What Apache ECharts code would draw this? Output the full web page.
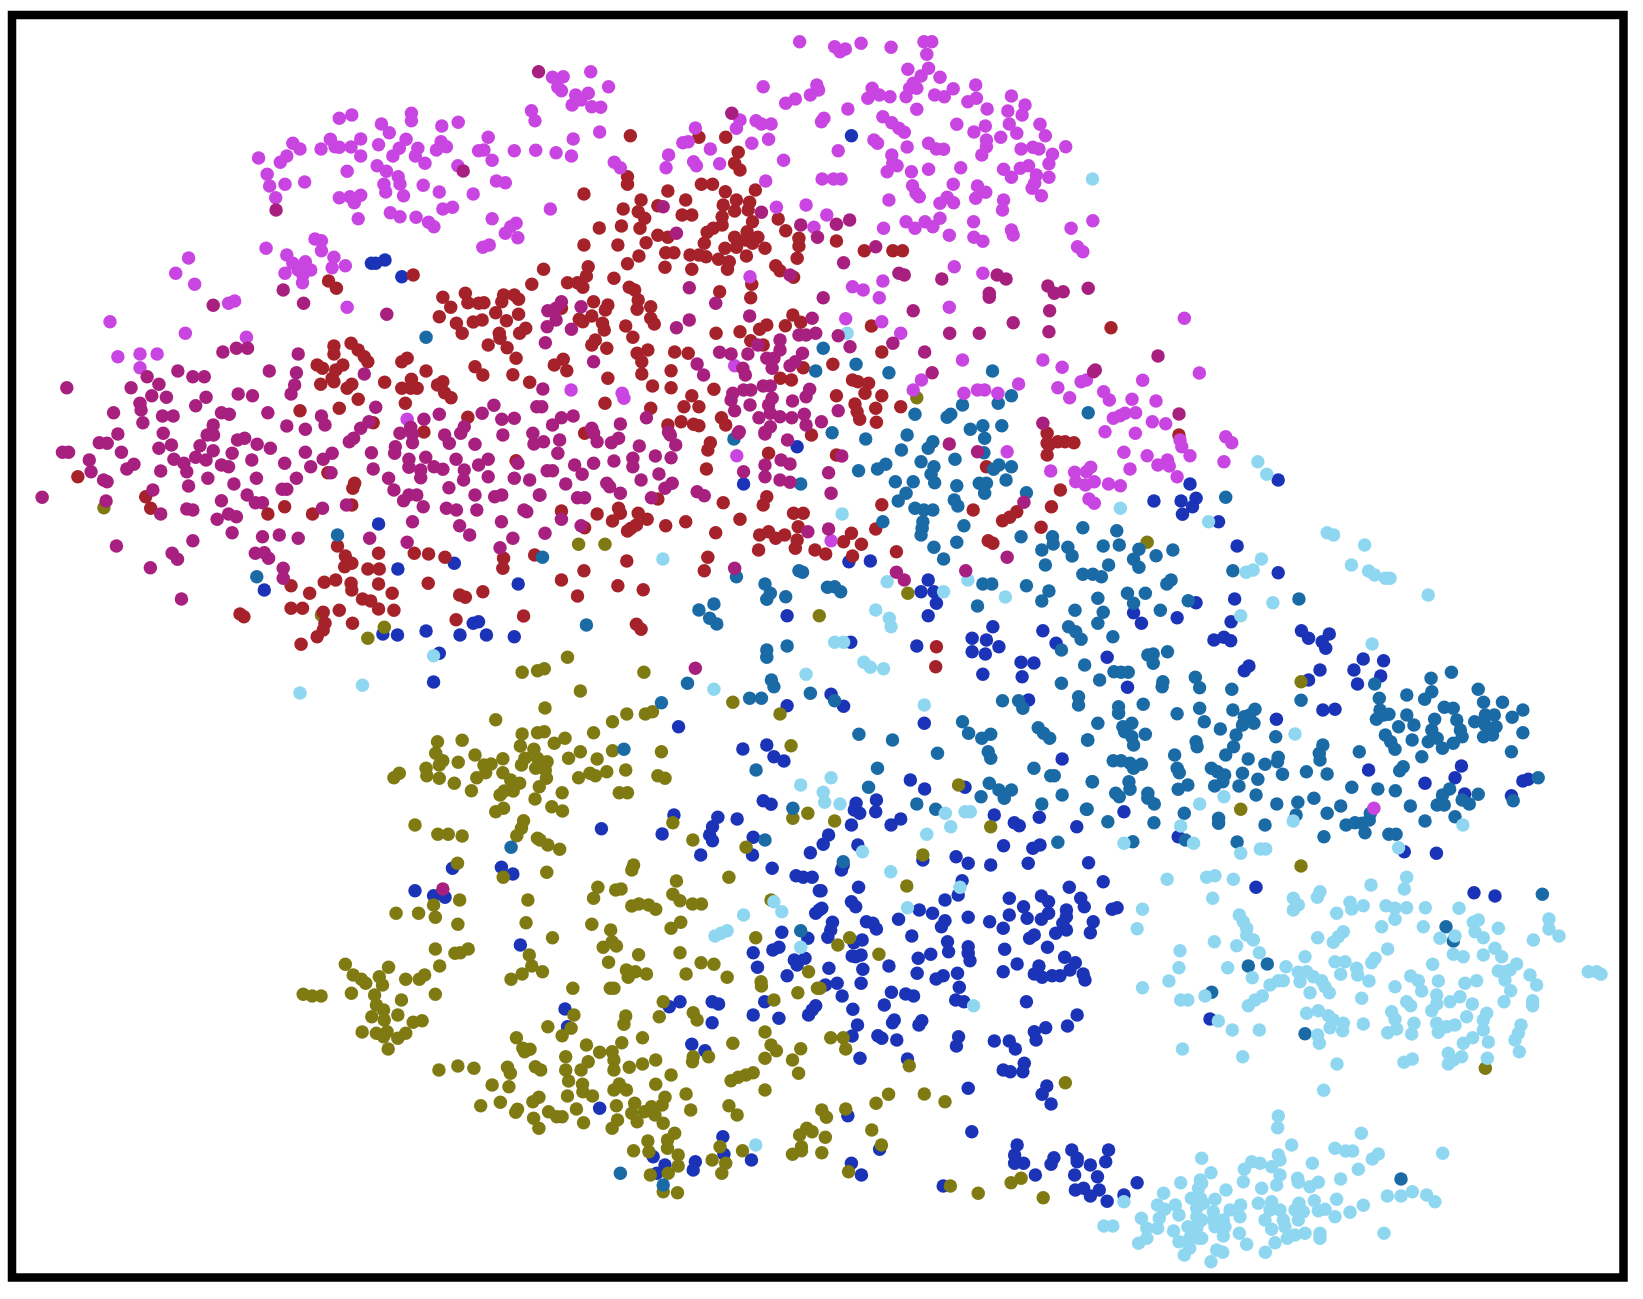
<!DOCTYPE html>
<html>
<head>
<meta charset="utf-8">
<title>Scatter</title>
<script src="https://cdn.jsdelivr.net/npm/echarts@6/dist/echarts.min.js"></script>
<style>
  html, body { margin: 0; padding: 0; background: #fff; }
  #chart { width: 1643px; height: 1299px; }
</style>
</head>
<body>
<div id="chart"></div>
<script>
// points, one list per colour and panel, flat x,y pairs
const magentaNW = [950,355,985,345,1068,372,1090,398,1152,340,1152,362,1237,378,1283,367,820,430,840,447,899,447,925,418,938,440,950,442,983,441,1010,417,1010,468,1060,434,1137,418,1118,445,1100,468,1170,445,1163,468,1190,490,1235,425,1222,450,1250,440,1367,412,1340,452,1355,450,1378,481,1440,452,1500,451,1282,497,724,474,785,487,803,468,748,523,755,558,798,553,853,546,972,514,1056,497,1082,514,1115,530,1120,552,1075,553,1080,576,1130,587,1185,556,1230,576,1325,582,1390,543,1415,548,772,593,950,593,980,590,1010,586,992,608,1240,627,1267,622,1093,638,1120,650,1003,656,1165,652,1200,667,1215,680,1378,656,1445,670,1430,680,1415,700,1450,713,1352,742,1370,735,1488,332,1498,362,882,717,900,722,900,752,745,745,803,765,935,772,930,803,967,797,820,790,855,785,835,810,870,810,798,820,848,825,847,848,528,774,492,820,545,853,640,910,657,903,972,922,308,965,519,1000,690,1012,330,1070,392,1062,440,1062,392,1103,1140,1258];
const magentaN = [727,125,825,140,840,155,855,147,899,130,983,142,1075,125,1097,125,1083,163,1030,208,1088,205,1067,228,1120,232,1045,250,1035,265,1055,265,1025,290,930,265,918,295,950,285,980,290,1105,285,1132,290,1157,266,1220,255,1198,305,1222,295,1320,288,1252,327,1055,328,862,327,1310,333,1350,345,1358,315,960,350,985,368,1005,385,1020,397,1167,373,1247,378,1215,396,1314,372,1400,373,1335,400,1290,412,1415,407,1250,420,1250,440,1472,440,1347,447,1380,442,1397,447,1028,441,1088,430,1110,447,1130,448,935,420,945,430,835,452,1237,465,1435,463,1425,491,985,465,988,490,1000,497,972,515,1040,515,1088,508,1178,503,1298,508,1320,532,1345,505,1368,497,1390,525,1385,550,1425,532,1378,565,1157,553,1043,557,1053,580,1062,590,1225,558,1248,577,1220,595,977,600,1140,592,1120,610,1158,608,1298,600,1295,630,1404,587,1025,665,1050,685,1078,665,1100,680,1120,655,1214,665,1320,690,1325,705,962,685,1146,706,1215,712,1240,724,1487,685,1548,662,1505,740,1520,755,1160,800,1240,820,960,843,875,860,905,870,950,893,1146,922,856,956,957,965,1010,1000,1183,1080,1408,1080,1462,1102,1068,1140,1045,1170,1340,1152,1187,1180,1225,1170,1245,1170,1282,1180,1450,1163,1483,1193,1515,1145,1530,1140,35,232,65,230,142,215,192,260,50,262,60,272,100,285,135,280,90,315,115,300,145,320,170,322,625,260,775,255,780,270,757,285,715,297,688,310,560,360,550,385,605,362,620,372,647,372,795,355,788,365,435,384,400,428,415,425,93,417,167,396,45,458,88,468,593,430,640,418,477,447,360,465,353,503,430,485,438,497,503,491,208,487,225,503,682,481,632,543,790,537,822,537,843,537,745,615,662,622,29,627,803,645,767,682,588,830,87,1170,230,1180,235,1195,545,1097];
const magentaC = [551,77,815,332,1308,65,1430,123,1497,127,1500,155];
const magentaE = [70,5,155,10,280,30,285,50,408,20,425,38,123,67,188,77,245,90,218,105,250,108,308,77,403,95,140,117,30,112,18,125,272,140,40,155,15,165,80,162,113,167,25,207,40,220,823,1135];
const magentaR = [553,145,598,309,428,331,396,388,468,393,311,365,328,390,407,428,340,445,360,437,375,430,457,455,497,461];

const purpleNW = [1508,215,1297,513,773,630,793,870,850,910,597,916,1083,943,624,1056,662,1045,693,1045,835,1062,412,1130,498,1113,540,1130,572,1130,754,1113,830,1118,1020,1122,187,1163,445,1153,367,1163,425,1187,466,1192,667,1182,707,1187,825,1155,815,1182,392,1210,395,1230,318,1238,577,1192,548,1217,620,1238,642,1243,750,1238,1052,1222,1383,1216,1350,1240,1503,1220,1230,1243,400,1268,455,1248,485,1248,597,1275,900,1248,910,1275,803,1278,855,1288,1187,1258,1150,1282,1033,1265,1010,1285,1405,1258,1440,1255,1300,1280];
const purpleW = [330,12,278,38,300,40,175,67,192,67,340,67,250,90,255,125,457,10,445,55,480,45,487,88,560,47,598,15,580,15,597,62,548,82,577,90,650,70,665,30,685,25,720,43,757,55,705,90,620,105,640,110,515,100,523,125,450,123,375,103,355,117,290,150,300,155,582,145,528,168,655,162,718,145,797,100,855,67,830,145,870,110,905,88,930,70,927,128,1040,68,1045,117,1107,50,1105,70,990,25,978,35,1120,10,1155,38,1145,88,1145,112,1192,82,1178,120,1178,143,1215,110,1240,118,1277,88,1245,15,1258,40,1330,43,1290,10,1155,12,1408,15,1340,105,1367,88,1300,120,1298,150,1367,140,1450,100,1440,145,1483,150,1495,42,1492,10,1088,145,1103,180,1257,173,1130,212,1145,195,1167,195,1330,195,1385,200,1405,195,1510,195,1185,230,1250,235,1278,240,1335,240,1467,240,1155,275,1287,287,1315,315,1404,275,1436,325,1140,337,1400,353,1035,325,1475,245,803,178,790,178,692,195,620,212,715,218,735,218,297,213,118,202,428,180,450,252,523,237,540,240,640,252,662,260,608,268,650,308,735,320,782,315,835,325,903,235,970,225,326,348,540,332,482,370,497,388,421,413,508,507,715,370,740,368,752,385,793,415,793,445];
const purpleN = [537,340,345,620,382,700,620,637,730,675,777,712,830,673,867,660,940,740,850,788,1005,820,1020,825,793,893,1125,837,1280,825,1305,837,1258,880,1258,892,1422,858,1440,880,1465,875,1535,865,1045,932,1427,932,1325,968,1147,1000,1230,1000,1425,995,988,1030,868,1040,835,1007,1077,1056,1098,1118,1550,1115,1555,1110,1408,1270,700,825,418,863,492,910,587,948,418,960,382,983,88,988,115,920,60,905,45,925,22,932,45,960,20,980,15,1028,150,1085,762,955,725,1005,745,1005,772,1000,672,1020,610,1035,503,1057,535,1062,582,1062,672,1050,735,1060,635,1075,655,1075,715,1085,700,1097,650,1105,440,1092,458,1125,568,1105,575,1125,625,1158,645,1158,590,1170,570,1170,540,1180,535,1200,650,1195,640,1215,755,1168,745,1190,707,1203,588,1215,835,1232,545,1232,645,1240,672,1250,705,1253,740,1243,745,1275,788,1265,613,1253,645,1280,630,1297,298,1253,225,1272,93,1248,60,1253,35,1275,145,1285,8,1167,5,1220,360,1297,558,1295];
const purpleC = [10,35,55,30,50,70,160,35,150,10,200,38,220,25,278,48,323,78,367,83,380,45,365,15,260,85,260,110,207,93,97,105,150,100,118,133,20,122,35,122,72,162,187,160,195,170,283,150,333,132,350,175,370,160,225,190,105,203,125,203,312,203,440,185,460,197,0,195,570,125,630,105,630,140,675,90,700,102,693,30,630,12,672,150,700,157,808,128,815,190,845,78,1146,42,1225,65,60,268,115,287,14,310,750,305,808,297,1308,382,545,415,998,427,1020,450,1192,422,1355,217,435,715,555,10];
const purpleS = [456,87];
const purpleR = [474,258,537,432];

const redNW = [920,843,942,865,1157,825,1489,853,1240,892,1262,922,1230,950,1303,880,1310,908,1340,910,1355,908,1410,885,1405,905,1440,885,1452,898,1388,938,1452,943,1418,962,1278,970,1294,1000,1325,966,1350,960,1398,1000,1400,1015,1472,985,1455,1000,1367,1035,1420,1043,1445,1075,935,1038,935,1062,983,1030,1003,1050,1020,1070,1030,1085,1140,1075,1125,1085,888,1095,903,1105,960,1095,940,1110,930,1135,935,1145,1193,1113,1330,1100,1352,1125,1436,1124,1077,1147,898,1153,985,1153,972,1165,1152,1138,1125,1165,1150,1165,1168,1165,1240,1145,1225,1155,1245,1178,1263,1193,1483,1147,1003,1198,1135,1210,950,1225,840,1232,1310,1252,1187,1296,1045,1268];
const redW = [218,140,408,200,422,235,750,252,797,230,875,252,918,128,993,160,988,175,985,225,945,348,967,378,985,400,965,410,1060,370,1030,417,1062,417,1160,370,1200,372,1246,382,908,457,940,450,983,460,985,480,1060,462,1098,490,815,467,867,490,1015,507,1038,513,1060,537,1103,541,815,535,847,535,905,547,950,541,987,580,910,580,905,600,888,620,843,643,672,552,683,560,1199,460,1287,495,1303,502,1352,485,1277,569,1466,558,1410,385,1408,415,1497,375,1445,92];
const redN = [253,407,445,412,520,412,555,457,545,490,560,510,245,530,245,553,452,553,483,553,123,582,358,573,519,575,603,570,283,600,408,600,550,600,587,607,233,627,330,617,513,615,275,635,545,633,583,630,398,645,425,645,510,650,293,655,667,657,595,665,166,684,228,678,280,685,510,675,485,685,468,697,580,695,688,692,330,706,358,712,545,712,610,712,575,720,725,715,830,723,123,735,218,735,297,728,460,730,725,738,518,745,550,742,595,730,630,745,908,752,988,752,1015,752,352,758,375,758,420,765,445,765,465,770,500,778,578,768,720,775,277,768,245,791,530,785,350,802,425,808,525,808,660,797,672,812,710,832,135,800,10,808,130,828,207,835,77,848,105,848,120,862,250,862,265,870,593,853,503,875,275,900,590,893,150,905,190,915,183,930,310,920,272,928,60,925,145,948,110,958,120,965,310,955,320,972,175,970,180,990,240,978,708,945,730,967,687,977,635,975,615,988,560,995,493,1000,928,978,260,1012,155,1020,145,1035,187,1045,590,1022,625,1035,302,1050,377,1056,415,1060,272,1060,957,1056,65,1078,40,1095,285,1085,75,1112,285,1122,820,1093,367,1112,737,1103,673,1135,704,1140,875,1140,890,1145,920,1150,190,1135,910,1180,315,1158,367,1163,487,1168,830,1187,957,1187,425,1187,882,1212,182,1210,403,1220,445,1220,888,1235,940,1225,1010,1220,310,1225,895,1258,508,1253,520,1275,395,1265,358,1275,430,1273,445,1277,942,1267,760,1305,125,1300,1420,1300,477,1328,1450,1325,1425,1335,1470,1325,1495,1328];
const redC = [640,70,470,60,466,117,830,75,60,243,160,252,203,273,220,235,225,250,275,250,300,268,270,285,245,303,255,295,352,287,408,275,492,308,513,218,560,268,635,200,625,225,710,250,737,250,723,290,615,315,640,305,660,325,685,315,720,330,715,355,612,360,770,360,800,372,850,335,872,310,900,343,875,378,940,297,957,224,998,365,1213,240,1250,110,1295,272,1315,262,1335,245,1457,180,1432,230,1403,292,1255,332,1268,340,1420,40,1420,75,330,207,125,293,470,382,460,422,243,393,123,422,60,450,218,467,289,479,105,498,270,583,283,598,1110,650,1108,710];
const redE = [277,15];
const redR = [333,173];

const blueNW = [1040,790,1052,790,1078,780,1125,830];
const blueN = [872,407,720,1340];
const blueW = [1060,282,1114,417,1272,400,740,480,1451,462,1072,612,1113,615,1193,603,1288,615,1325,580,1340,575,1362,615,1440,620,1230,670,1214,756];
const blueC = [570,162,865,395,925,393,1087,450,1067,485,1103,485,1110,520,1087,557,692,557,1268,590,1210,625,1250,630,1285,650,1210,665,1247,672,1408,602,1055,648,870,637,1445,640,1347,697,1383,699,1350,740,1240,733,815,793,850,829,692,827,1368,810,1076,880,388,890,568,957,635,945,655,980,683,993,1462,987,1037,1050,1077,1077,1190,1072,625,1112,647,1123,885,1120,942,1110,895,1150,940,1145,880,1140,375,1155,498,1162,552,1167,483,1190,475,1215,483,1232,172,1196,342,1212,1272,1155,1398,1162,1328,1178,1342,1187,1503,1190,1010,1167,983,1185,872,1185,808,1215,793,1243,597,1222,595,1275,450,1275,757,1268,890,1245,1298,1247,1380,1255,1400,1245,1165,1280];
const blueE = [308,162,555,150,207,213,283,213,325,205,315,230,287,253,388,275,440,348,555,428,325,518,433,507,150,548,172,580,272,563,423,575,375,630,403,622,422,632,620,602,640,625,698,612,678,635,688,655,793,687,850,692,76,682,133,772,473,708,460,722,672,720,640,750,767,720,777,762,842,738,680,840,714,838,550,868,808,1020,1068,1008,1050,1043,966,1060,1077,1092,1240,1053,1255,1048,1208,1097,123,1145,275,1220,908,1265,998,1270];
const blueS = [483,25,620,22,652,42,378,92,430,107,462,112,673,255,798,447,805,500,1090,440,1120,425,1210,425,1228,432,1210,488,1153,553,1190,572,895,745,1240,830,1243,883,1045,890,1078,915,1055,940,1163,905,1157,930,1320,900,1325,278,1337,322,1380,270,1397,262,1405,217,1420,347,1440,300,1448,315,1470,295,1478,235,1500,160,1510,150,1378,25,1510,92,1445,47,1465,52,1490,52,1357,425,1325,465,1397,475,1480,465,1490,450,1500,437];
const blueSE = [65,15,60,30,415,10,478,15,583,10,752,8,288,0,793,65,398,62,108,82,3,92,698,82,88,125,100,140,350,120,387,105,530,115,620,108,640,125,570,140,730,115,740,140,278,150,315,160,530,165,580,175,640,160,620,178,690,150,690,170,680,190,415,172,818,148,832,143,5,145,220,178,35,187,130,185,148,190,158,207,350,182,340,200,475,185,513,205,765,185,690,210,660,220,757,218,30,210,22,232,257,228,118,240,95,248,600,225,587,235,357,245,360,275,415,260,415,280,637,262,517,268,100,290,115,285,90,288,310,283,275,295,420,302,685,292,715,308,700,330,25,325,120,328,193,318,552,312,613,318,272,340,513,335,600,342,622,352,650,347,672,347,737,342,742,360,15,375,345,347,325,357,385,340,48,370,115,370,390,382,200,397,240,402,262,408,62,408,380,420,403,425,578,425,180,435,92,448,720,465,208,480,203,488,285,482,277,495,105,495,90,528,162,527,173,535,215,540,693,498,632,503,600,515,605,540,388,530,382,558,488,543,530,543,547,567,112,595,245,597,572,610,513,630,533,635,568,635,415,685,635,678,622,703,647,732,78,767,425,815,167,868,552,855,545,885,545,910,570,910,655,893,647,913,705,870,720,895,720,905,808,870,800,905,757,915,88,910,116,945,603,945,713,945,777,950,345,978,715,990,738,985,782,990,757,1008,804,1024,851,1005,888,968];
const blueFar = [168,82,822,98,885,108,30,477];

const tealNW = [1193,1012];
const tealN = [793,1045,885,1093,772,1113,977,1118,1267,1113,1320,1187,1283,1210,1183,1215,1050,1243,1150,1243,1140,1252,1535,1238,1240,1277,1293,1277,1205,1288,818,1298,912,1317,543,1317];
const tealW = [945,315,719,440,1519,382,1431,1252];
const tealC = [892,122,945,117,968,103,1067,95,1162,88,1103,110,1095,133,1105,158,995,155,1045,155,1167,167,1230,160,1250,160,1245,190,1025,190,1003,213,1160,210,1170,228,1050,235,1075,240,1100,240,1072,275,1070,295,1067,315,960,275,1187,287,1167,337,1103,352,1130,387,1270,118,1285,105,1320,110,1305,150,1362,188,1347,320,1435,320,1437,342,1405,360,1478,352,1490,378,1415,405,1520,293,1520,433,1548,433,1240,462,1265,462,1362,467,1425,483,1405,513,1225,528,1498,541,1480,590,1500,605,1515,628,1460,660,1525,705,1460,760,1295,812,1340,812,1352,835,1508,800,1508,825,1183,875,1200,910,1237,925,1262,913,1395,893,1410,910,1427,925,1533,930,893,913,987,930,1113,970,1255,965,1262,985,945,1015,1383,1015,1430,1037,1440,1037,920,1072,1258,1060,1285,1080,1320,1080,1300,1105,1235,1100,1462,1095,1546,1055,1055,1122,1108,1138,1405,1122,1530,1138,708,1135,1450,1237,630,1230,730,162,550,440,630,462,645,490,635,508,688,500,725,422,735,427,805,472,825,470,842,485,445,540,487,522,475,565,495,582,130,585,635,660,635,682,692,648,648,750,655,770,757,790,825,812,587,805,620,805,413,760,340,818,235,958,605,1020,1028,15,1012,60,1100,35,1087,55,1245,25,1243,68];
const tealE = [408,202,103,302,65,348,110,345,165,358,213,377,260,360,150,388,80,405,165,412,428,422,60,440,255,450,243,462,133,490,183,490,50,505,150,520,303,512,613,507,65,547,225,541,50,580,92,620,245,665,205,672,190,675,205,700,95,725,115,727,135,727,55,750,232,755,230,770,323,742,335,773,425,778,983,745,1040,727,825,762,1115,778,985,785,965,808,838,805,915,795,1130,817,1183,817,1240,840,619,811,177,823,108,830,108,850,272,851,335,835,428,840,490,838,460,860,475,855,455,885,487,880,348,875,393,897,50,880,145,880,120,890,125,905,183,913,145,920,22,930,150,945,437,915,548,920,325,935,328,950,430,950,408,975,680,945,670,970,672,990,782,965,855,915,870,935,882,958,840,840,830,868,850,855,865,853,892,890,915,855,935,885,930,930,993,868,985,900,1020,832,1045,835,1055,870,1065,900,1070,920,1045,940,1015,955,975,935,1000,925,1105,875,1135,855,1160,855,1165,890,1135,885,1130,920,1155,915,1210,862,1240,908,1208,965,957,980,265,975,93,992,115,992,140,1000,172,1003,150,1015,272,1015,278,1028,368,1015,385,1025,405,1035,400,1055,377,1068,471,987,518,1003,555,982,553,995,455,1030,445,1068,498,1048,567,1033,634,1025,692,1032,905,1010,895,1022,35,1055,137,1055,140,1078,100,1090,110,1100,190,1090,190,1105,208,1122,275,1078,302,1065,493,1095,551,1122,610,1117,655,1105,730,1128,761,1072,834,1077,883,1082,925,1128,1035,1077,1015,1095,1000,1125,1020,1125,1070,1110,1090,1122,1115,1093,1283,1043,1213,1112,20,1138,292,1150,605,1155,692,1150,813,1150,78,1175,207,1178,388,1165,388,1180,518,1185,745,1185,770,1178,790,1180,810,1170,798,1208,966,1173,1050,1160,865,1213,885,1213,683,1220,148,1235,295,1230,440,1236];
const tealS = [953,940,1073,975,1458,212];
const tealSE = [65,5];
const tealFar = [145,318,202,312,315,521,738,200,760,243,1027,103,35,397,603,957];

const paleN = [1547,537,860,1000];
const paleW = [1214,677,1015,766,840,789];
const paleC = [846,252,344,387,972,455,1130,485,1198,450,1303,501,940,540,978,565,983,590,825,637,850,637,907,697,925,712,962,716,745,733,487,778,1076,825,730,1065,815,1043,793,1087,797,1117,840,1122,1135,1150,1190,1145,1205,1145,1150,1190,1083,1213,903,1265];
const paleE = [498,95,523,133,113,235,360,275,692,308,710,315,797,345,508,387,465,427,485,420,760,405,808,423,825,435,855,445,868,445,975,495,540,518,450,557,818,642,602,912,403,1100,335,1122,282,1188,597,1173,1072,1185,892,1253,123,1240,318,1240,450,1270,505,1257,520,1257];
const paleS = [1383,125,1405,155,1298,165,1218,228,1252,212,1235,220,1458,262,1332,855];
const paleSE = [198,35,245,143,392,82,430,437,972,58,903,148,888,206,1008,272,1005,323,977,363,903,383,1010,420,1030,420,1015,567,851,1025,795,1098,820,1098,1010,968,1065,960,1060,985,962,1000,1040,1015,1065,1015,995,1035,945,1035,1055,1045,965,1048,900,1075,950,1075,1005,1065,1055,1070,1062,1085,945,1105,915,1105,990,1113,1030,1100,1055,1105,915,1135,892,1150,1060,1135,1005,1145,1035,1165,1020,1185,1035,1135];
const paleFar = [20,52,45,47,100,58,38,115,118,165,130,185,140,205,140,225,160,240,43,245,110,257,178,278,83,323,157,353,15,408,55,483,97,510,178,510,128,590,258,320,315,290,210,375,235,362,250,362,295,337,320,335,340,350,300,365,365,362,375,380,388,398,330,398,145,437,165,420,187,408,320,460,355,452,385,467,400,480,390,503,430,490,428,512,353,525,358,550,411,612,371,691,280,115,295,135,280,150,360,95,352,112,410,160,450,127,455,147,490,137,513,75,353,233,430,215,415,230,400,247,405,305,435,305,422,343,470,325,473,345,515,308,525,295,507,363,485,415,490,492,563,267,545,200,558,137,585,145,585,178,620,52,613,87,620,143,676,143,670,200,777,145,720,235,765,228,698,313,632,348,655,362,665,393,585,380,715,363,710,405,620,425,632,437,575,455,585,478,695,452,710,432,750,425,780,410,817,432,795,370,830,362,760,283,790,290,850,285,885,265,905,290,820,187,835,180,825,215,850,233,895,205,895,333,915,335,930,330,950,312,915,360,990,345,1010,375,932,392,912,425,998,422,998,437,1000,240,1047,177,1047,207,1077,228,1165,335,1190,335,1203,343,860,460,850,480,850,510,800,470,710,490,740,500,765,495,715,517,642,490,635,522,563,518,590,507,790,550,818,533,865,546,862,595,963,495,955,520,945,540,958,575,785,590,745,580,745,612,760,600,637,597,612,607,235,768,233,803,484,820,275,855,405,865,437,873,458,873,728,880,535,882,517,897,235,885,240,900,155,905,180,910,215,920,133,928,337,910,5,895,475,928,33,938,240,945,293,955,295,967,130,965,230,975,355,967,330,980,422,957,185,985,78,990,5,970,562,1008,603,1008,637,995,680,1005,705,1025,410,1018,490,1036,343,1022,375,1048,355,1052,450,1057,405,1070,297,1030,215,1025,175,1030,122,1035,90,1050,45,1018,10,1030,40,1055,240,1050,210,1050,285,1050,310,1055,120,1070,5,1080,40,1080,70,1080,195,1080,250,1080,295,1080,215,1108,255,1100,45,1100,75,1100,70,1128,118,1120,315,1120,360,1120,360,1135,5,1135,285,1125,262,1135,225,1148,140,1153,196,1177,50,1170,68,1177,33,1205,552,1120];

const oliveN = [1055,1193];
const oliveW = [291,233,1076,592,1030,625,900,555,1462,727,1505,722,1388,869,1225,935,1294,931,1462,912,1505,908,1457,948,1220,970,1330,975,1495,958,1408,986,1240,992,1283,997,1470,985,1505,985,1193,1015,1230,1005,1375,1002,1355,1005,1460,1005,1500,1015,1195,1037,1230,1045,1118,1030,1103,1043,1360,1028,1335,1043,1408,1028,1272,1060,1430,1050,1455,1060,1320,1082,1510,1070,1437,1083,1412,1083,1400,1095,1498,1107,1388,1145,1410,1135,1466,1172,1162,1185,1460,1195,1226,1213,1255,1213,1294,1218,1447,1217,1505,1225];
const oliveC = [108,343,182,343,782,557,1030,490,77,682,12,716,291,727,113,783,540,817,672,852,14,834,243,852,295,852,315,845,203,875,150,908,12,905,70,925,40,940,703,947,113,965,80,985,203,962,160,987,340,965,20,995,15,1020,240,1020,140,1030,108,1043,187,1025,155,1037,330,1037,350,1045,18,1045,62,1088,222,1088,245,1088,33,1130,63,1143,1172,1065,708,1165,750,1150,825,1173,372,1178,1262,1190,1072,1275,428,1230,577,1252,0,1230,22,1245,55,1258];
const oliveE = [188,337,619,755,450,1138];
const oliveS = [497,10,625,52,747,37,985,30,990,15,890,82,878,115,940,90,955,87,1110,63,1257,52,1100,103,1120,122,985,138,1005,132,1032,135,1052,148,1155,132,1180,132,503,120,430,135,325,160,388,160,435,172,498,193,694,120,689,188,873,193,926,210,763,233,1122,187,1095,205,1375,120,1332,233,435,267,490,280,505,278,527,267,905,262,930,245,942,258,1004,284,1120,278,698,285,705,318,183,313,447,318,304,322,920,307,1179,308,1215,313,205,345,278,350,352,358,390,358,405,345,1137,342,970,330,995,335,975,352,1026,342,1252,352,1347,365,1348,378,678,342,735,335,647,358,228,358,240,370,287,375,820,385,925,385,935,385,1450,398,1505,385,1480,335,65,403,90,408,115,408,200,400,265,405,340,420,435,403,1073,425,1383,420,270,435,290,450,257,470,330,465,823,465,968,468,1157,458,1168,480,1062,470,292,480,373,487,398,482,750,500,815,505,963,493,230,516,270,520,300,515,352,520,290,530,330,535,303,567,662,533,790,527,1015,533,858,555,957,548,1358,516,1268,550,1375,555,1390,572,1458,566,680,565,700,568,685,575,895,577,930,575,1157,590,1200,590,1155,605,800,590,935,600,863,605,1052,600,1015,612,1358,595,1435,600,445,630,498,618,543,625,637,622,645,640,715,620,730,630,800,630,843,630,978,622,935,630,1095,645,1325,638,1305,645,1283,652,1263,662,1452,640,594,675,641,680,808,663,847,673,950,672,935,690,970,690,1052,673,848,695,875,708,1358,690,562,737,617,727,725,712,708,725,805,708,1137,702,1078,712,665,748,660,757,752,755,942,737,993,730,1040,740,1070,735,1257,737,1150,750,830,747,775,770,790,770,710,775,985,760,1020,755,1050,765,1280,765,945,780,1000,785,850,788,1073,790,725,805,930,805,1105,820,1475,805,1455,825,1490,815,1085,840,1030,843,1085,865,1232,860,1460,860,1460,872,1295,872,990,872,1033,875,1115,885,1435,883,1210,900,1115,918,1248,910,1237,940,1087,940,1037,945,1073,995,1113,998];
const oliveSE = [243,78,83,233,50,255,165,283,0,385,30,533,65,533,72,567,250,617,687,668,192,703,157,730,292,702,350,725,72,747,5,750,18,772,145,810,15,832,172,855,5,878,80,935,365,978,443,1000,535,968,563,955,625,1013];
const oliveFar = [303,18,856,625];

// each panel: where the reading started and how many reading units make one axis unit
const P_NW = [0, 0, 2.8, 3];
const P_N = [540, 0, 2.8, 3];
const P_W = [0, 430, 2.8, 3];
const P_C = [540, 430, 2.8, 3];
const P_E = [1080, 430, 2.8, 3];
const P_S = [280, 860, 2.8, 3];
const P_SE = [820, 860, 2.8, 3];
const P_FAR = [1200, 860, 3, 3];
const P_R = [1000, 270, 3, 3];

function read(list, panel) {
  const out = [];
  for (let i = 0; i < list.length; i += 2) {
    out.push([panel[0] + list[i] / panel[2], panel[1] + list[i + 1] / panel[3]]);
  }
  return out;
}

const groups = [
  { name: 'blue', color: '#1b33b6', parts: [[blueNW, P_NW], [blueN, P_N], [blueW, P_W], [blueC, P_C], [blueE, P_E], [blueS, P_S], [blueSE, P_SE], [blueFar, P_FAR]] },
  { name: 'olive', color: '#7f7a12', parts: [[oliveN, P_N], [oliveW, P_W], [oliveC, P_C], [oliveE, P_E], [oliveS, P_S], [oliveSE, P_SE], [oliveFar, P_FAR]] },
  { name: 'red', color: '#a6222a', parts: [[redNW, P_NW], [redN, P_N], [redW, P_W], [redC, P_C], [redE, P_E], [redR, P_R]] },
  { name: 'teal', color: '#1a6aa6', parts: [[tealNW, P_NW], [tealN, P_N], [tealW, P_W], [tealC, P_C], [tealE, P_E], [tealS, P_S], [tealSE, P_SE], [tealFar, P_FAR]] },
  { name: 'pale', color: '#8fd7f0', parts: [[paleN, P_N], [paleW, P_W], [paleC, P_C], [paleE, P_E], [paleS, P_S], [paleSE, P_SE], [paleFar, P_FAR]] },
  { name: 'magenta', color: '#c945e2', parts: [[magentaNW, P_NW], [magentaN, P_N], [magentaC, P_C], [magentaE, P_E], [magentaR, P_R]] },
  { name: 'purple', color: '#a8207f', parts: [[purpleNW, P_NW], [purpleN, P_N], [purpleW, P_W], [purpleC, P_C], [purpleS, P_S], [purpleR, P_R]] },
];

const chart = echarts.init(document.getElementById('chart'));
chart.setOption({
  animation: false,
  backgroundColor: '#fff',
  grid: {
    show: true,
    left: 12,
    right: 19.5,
    top: 15,
    bottom: 21.5,
    borderColor: '#000',
    borderWidth: 8.5,
    backgroundColor: '#fff',
  },
  xAxis: { type: 'value', min: 12, max: 1623.5, show: false },
  yAxis: { type: 'value', min: 15, max: 1277.5, inverse: true, show: false },
  series: groups.map(g => ({
    name: g.name,
    type: 'scatter',
    symbolSize: 13.5,
    silent: true,
    itemStyle: { color: g.color, opacity: 1 },
    data: g.parts.flatMap(p => read(p[0], p[1])),
  })),
});
</script>
</body>
</html>
